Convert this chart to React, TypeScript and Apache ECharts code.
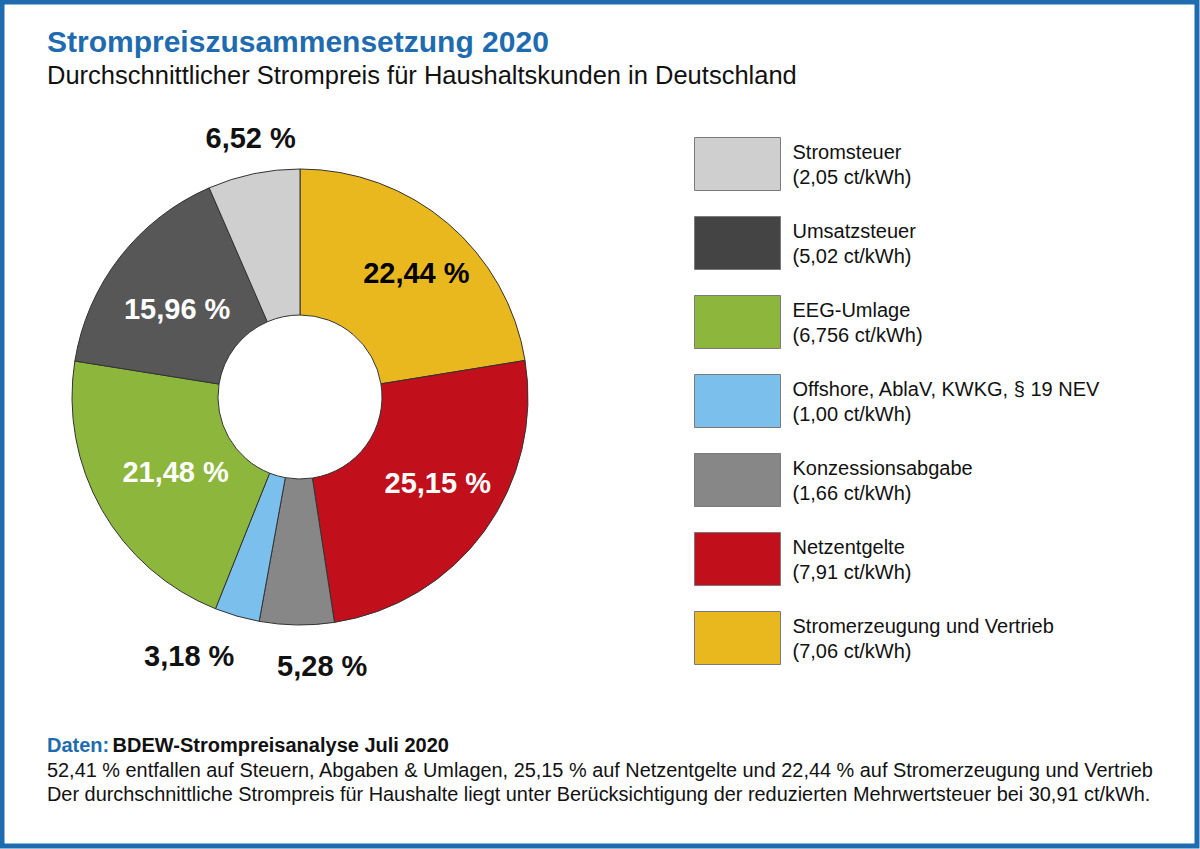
import React, { useEffect, useRef } from "react";
import * as echarts from "echarts";

const categories = [
  "Stromerzeugung und Vertrieb",
  "Netzentgelte",
  "Konzessionsabgabe",
  "Offshore, AblaV, KWKG, § 19 NEV",
  "EEG-Umlage",
  "Umsatzsteuer",
  "Stromsteuer",
];
const shares = [22.44, 25.15, 5.28, 3.18, 21.48, 15.96, 6.52];
const prices = ["7,06", "7,91", "1,66", "1,00", "6,756", "5,02", "2,05"];
const colors = ["#E9B81E", "#C10F1C", "#878787", "#7BBFEC", "#8CB63C", "#575757", "#CFCFCF"];
const legendColors = ["#E9B81E", "#C10F1C", "#878787", "#7BBFEC", "#8CB63C", "#444444", "#CFCFCF"];
const insideLabelColors = ["#000", "#fff", null, null, "#fff", "#fff", null];
const insideOffsets: Record<number, [number, number]> = { 0: [14, -4], 1: [10, -7], 4: [13, -3], 5: [2, 9] };
const outsideLabel = [false, false, true, true, false, false, true];
const outsideOffsets: Record<number, [number, number]> = { 2: [26, 2], 3: [-37, 2], 6: [5, 2] };

const FONT = "'Liberation Sans', Arial, sans-serif";
const fmt = (v: number) => v.toFixed(2).replace(".", ",") + " %";

export default function App() {
  const ref = useRef<HTMLDivElement>(null);
  useEffect(() => {
    document.body.style.margin = "0";
    const chart = echarts.init(ref.current!, null, { renderer: "svg" });
    const mainData = categories.map((name, i) => ({
      name,
      value: shares[i],
      itemStyle: { color: colors[i] },
      label: insideLabelColors[i]
        ? { show: true, color: insideLabelColors[i], offset: insideOffsets[i] || [0, 0] }
        : { show: false },
    }));
    const outerData = categories.map((name, i) => ({
      name,
      value: shares[i],
      label: outsideLabel[i]
        ? { show: true, offset: outsideOffsets[i] || [0, 0] }
        : { show: false },
    }));
    chart.setOption({
      animation: false,
      backgroundColor: "#fff",
      title: {
        text: "Strompreiszusammensetzung 2020",
        subtext: "Durchschnittlicher Strompreis für Haushaltskunden in Deutschland",
        left: 42,
        top: 21,
        itemGap: 6,
        textStyle: { fontFamily: FONT, fontSize: 30, fontWeight: "bold", color: "#1E6BB0" },
        subtextStyle: { fontFamily: FONT, fontSize: 25.5, color: "#111" },
      },
      legend: {
        orient: "vertical",
        left: 694,
        top: 137,
        itemWidth: 86,
        itemHeight: 53,
        itemGap: 25,
        padding: 0,
        selectedMode: false,
        icon: "rect",
        data: categories.map((name, i) => ({
          name,
          itemStyle: { color: legendColors[i], borderColor: "#7a7a7a", borderWidth: 1 },
        })).reverse(),
        formatter: (name: string) => {
          const i = categories.indexOf(name);
          return `${name}\n(${prices[i]} ct/kWh)`;
        },
        textStyle: { fontFamily: FONT, fontSize: 20, lineHeight: 25, color: "#111", padding: [3, 0, 0, 7] },
      },
      series: [
        {
          type: "pie",
          center: [300, 397],
          radius: [82, 228],
          startAngle: 90,
          clockwise: true,
          silent: true,
          data: mainData,
          itemStyle: { borderColor: "#333", borderWidth: 1 },
          label: {
            position: "inside",
            formatter: (p: any) => fmt(p.value),
            fontFamily: FONT,
            fontSize: 29,
            fontWeight: "bold",
          },
          labelLine: { show: false },
        },
        {
          type: "pie",
          center: [300, 397],
          radius: [228, 300],
          startAngle: 90,
          clockwise: true,
          silent: true,
          data: outerData,
          itemStyle: { color: "rgba(0,0,0,0)", borderWidth: 0 },
          label: {
            position: "inside",
            formatter: (p: any) => fmt(p.value),
            fontFamily: FONT,
            fontSize: 29,
            fontWeight: "bold",
            color: "#111",
          },
          labelLine: { show: false },
        },
      ],
      graphic: [
        {
          type: "rect",
          shape: { x: 2, y: 2, width: 1195, height: 844 },
          style: { fill: "none", stroke: "#1E6BB0", lineWidth: 5 },
          silent: true,
        },
        {
          type: "text",
          left: 47,
          top: 735,
          style: {
            text:
              "{b|Daten:} {k|BDEW-Strompreisanalyse Juli 2020}\n" +
              "{n|52,41 % entfallen auf Steuern, Abgaben & Umlagen, 25,15 % auf Netzentgelte und 22,44 % auf Stromerzeugung und Vertrieb}\n" +
              "{n|Der durchschnittliche Strompreis für Haushalte liegt unter Berücksichtigung der reduzierten Mehrwertsteuer bei 30,91 ct/kWh.}",
            rich: {
              b: { fontFamily: FONT, fontSize: 20, fontWeight: "bold", fill: "#1E6BB0", lineHeight: 24.5 },
              k: { fontFamily: FONT, fontSize: 20, fontWeight: "bold", fill: "#111", lineHeight: 24.5 },
              n: { fontFamily: FONT, fontSize: 19.9, fill: "#111", lineHeight: 24.5 },
            },
          },
        },
      ],
    });
    return () => chart.dispose();
  }, []);
  return <div ref={ref} style={{ width: 1200, height: 849 }} />;
}
